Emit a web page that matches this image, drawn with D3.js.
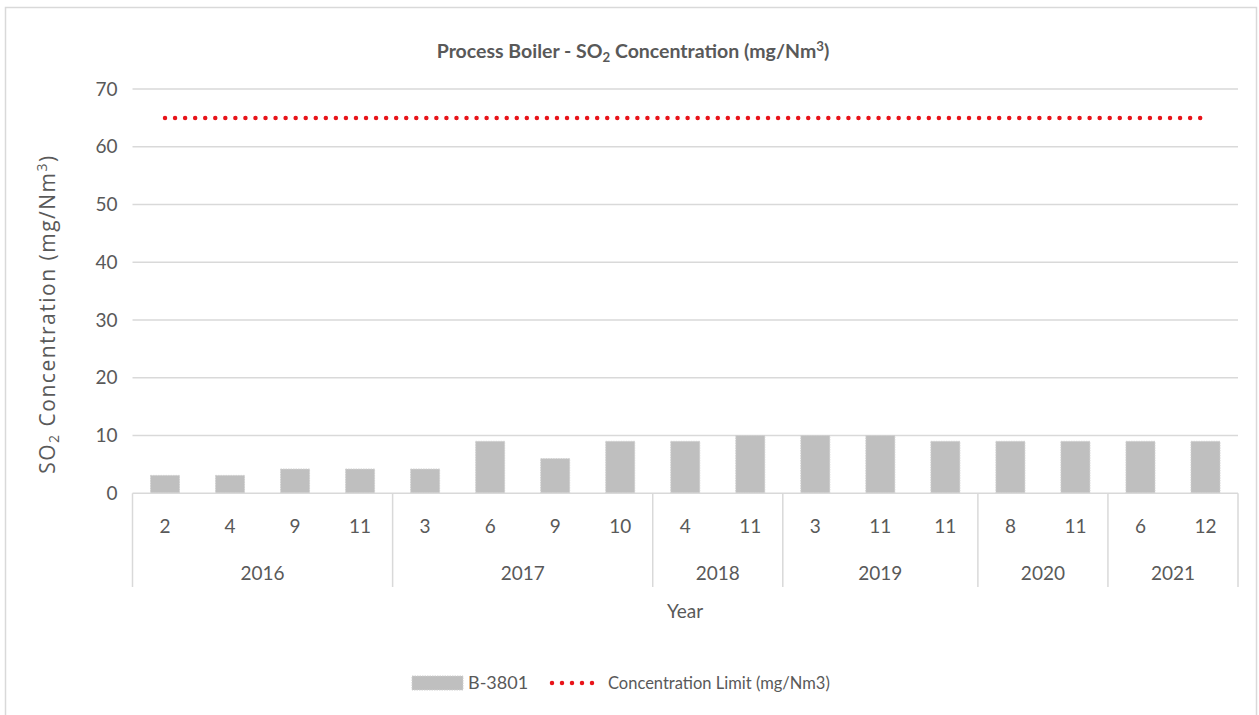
<!DOCTYPE html>
<html>
<head>
<meta charset="utf-8">
<script src="https://cdn.jsdelivr.net/npm/d3@7"></script>
<style>
  body { margin: 0; background: #fff; }
  svg { display: block; }
</style>
</head>
<body>
<svg id="chart" width="1259" height="715"></svg>
<script>
const months = ["2","4","9","11","3","6","9","10","4","11","3","11","11","8","11","6","12"];
const yearOfCat = ["2016","2016","2016","2016","2017","2017","2017","2017","2018","2018","2019","2019","2019","2020","2020","2021","2021"];
const years = ["2016","2017","2018","2019","2020","2021"];
const values = [3.1, 3.1, 4.2, 4.2, 4.2, 9, 6, 9, 9, 10, 10, 10, 9, 9, 9, 9, 9];
const limitValues = [65,65,65,65,65,65,65,65,65,65,65,65,65,65,65,65,65];
const yTicks = [0, 10, 20, 30, 40, 50, 60, 70];
const seriesNames = ["B-3801", "Concentration Limit (mg/Nm3)"];

const FONT = "Lato, 'Open Sans', sans-serif";
const TXT = "#595959";
const GRID = "#d9d9d9";

const svg = d3.select("#chart");
const pL = 132.5, pR = 1238, pT = 89, pB = 493.3;

svg.append("rect").attr("x", 5.5).attr("y", 7.5).attr("width", 1251).attr("height", 720)
  .attr("fill", "#fff").attr("stroke", "#d9d9d9").attr("stroke-width", 1.5);

const idx = months.map((d, i) => i);
const x = d3.scaleBand().domain(idx).range([pL, pR]).padding(0);
const y = d3.scaleLinear().domain([0, 70]).range([pB, pT]);

// gridlines
svg.append("g").selectAll("line").data(yTicks.filter(d => d > 0)).join("line")
  .attr("x1", pL).attr("x2", pR)
  .attr("y1", d => y(d)).attr("y2", d => y(d))
  .attr("stroke", GRID).attr("stroke-width", 1.5);

// y axis labels
const yAxis = d3.axisLeft(y).tickValues(yTicks).tickSize(0).tickPadding(15);
const ya = svg.append("g").attr("transform", `translate(${pL},0)`).call(yAxis);
ya.select(".domain").remove();
ya.selectAll("text").attr("font-family", FONT).attr("font-size", 19).attr("fill", TXT);

// bars
const bw = 29;
svg.append("g").selectAll("rect").data(values).join("rect")
  .attr("x", (d, i) => x(i) + x.bandwidth() / 2 - bw / 2)
  .attr("width", bw)
  .attr("y", d => y(d))
  .attr("height", d => pB - y(d))
  .attr("fill", "#bfbfbf")
  .attr("stroke", "#cfcfcf").attr("stroke-width", 1).attr("stroke-dasharray", "1.5,1");

// axis line
svg.append("line").attr("x1", pL).attr("x2", pR).attr("y1", pB).attr("y2", pB)
  .attr("stroke", GRID).attr("stroke-width", 1.5);

// category labels
svg.append("g").selectAll("text").data(months).join("text")
  .attr("x", (d, i) => x(i) + x.bandwidth() / 2)
  .attr("y", 533)
  .attr("text-anchor", "middle")
  .attr("font-family", FONT).attr("font-size", 19).attr("fill", TXT)
  .text(d => d);

// year groups
const groups = years.map(yr => {
  const ids = idx.filter(i => yearOfCat[i] === yr);
  return { yr, x0: x(ids[0]), x1: x(ids[ids.length - 1]) + x.bandwidth() };
});
const seps = [groups[0].x0].concat(groups.map(g => g.x1));
svg.append("g").selectAll("line").data(seps).join("line")
  .attr("x1", d => d).attr("x2", d => d)
  .attr("y1", pB).attr("y2", 587)
  .attr("stroke", GRID).attr("stroke-width", 1.5);
svg.append("g").selectAll("text").data(groups).join("text")
  .attr("x", d => (d.x0 + d.x1) / 2)
  .attr("y", 580)
  .attr("text-anchor", "middle")
  .attr("font-family", FONT).attr("font-size", 19).attr("fill", TXT)
  .text(d => d.yr);

// limit line
const line = d3.line().x((d, i) => x(i) + x.bandwidth() / 2).y(d => y(d));
svg.append("path").datum(limitValues)
  .attr("d", line)
  .attr("fill", "none").attr("stroke", "#e8141a").attr("stroke-width", 4.5)
  .attr("stroke-linecap", "round").attr("stroke-dasharray", "0,10.05");

// helper: fit a text element to a target width by adjusting font size
function fitWidth(sel, target) {
  const w = sel.node().getComputedTextLength();
  if (w > 0) {
    const fs = parseFloat(sel.attr("font-size"));
    const nf = fs * target / w;
    sel.attr("font-size", nf);
    sel.selectAll("tspan.sub").attr("font-size", nf * 0.68);
  }
}

// title
const title = svg.append("text").attr("x", 633).attr("y", 58).attr("text-anchor", "middle")
  .attr("font-family", FONT).attr("font-size", 19).attr("font-weight", "bold").attr("fill", TXT);
title.append("tspan").text("Process Boiler - SO");
title.append("tspan").attr("class", "sub").attr("font-size", 13).attr("dy", 4).text("2");
title.append("tspan").attr("dy", -4).text(" Concentration (mg/Nm");
title.append("tspan").attr("class", "sub").attr("font-size", 13).attr("dy", -7).text("3");
title.append("tspan").attr("dy", 7).text(")");
fitWidth(title, 393);

// y title
const yt = svg.append("text").attr("transform", "translate(55,314) rotate(-90)")
  .attr("text-anchor", "middle")
  .attr("font-family", "'Open Sans', sans-serif").attr("font-size", 21)
  .attr("letter-spacing", 1.5).attr("fill", TXT);
yt.append("tspan").text("SO");
yt.append("tspan").attr("font-size", 14).attr("dy", 4).text("2");
yt.append("tspan").attr("dy", -4).text(" Concentration (mg/Nm");
yt.append("tspan").attr("font-size", 14).attr("dy", -8).text("3");
yt.append("tspan").attr("dy", 8).text(")");

// x title
svg.append("text").attr("x", 685).attr("y", 618).attr("text-anchor", "middle")
  .attr("font-family", FONT).attr("font-size", 19).attr("fill", TXT).text("Year");

// legend
const lg = svg.append("g");
lg.append("rect").attr("x", 412).attr("y", 676).attr("width", 51).attr("height", 14)
  .attr("fill", "#bfbfbf").attr("stroke", "#cfcfcf").attr("stroke-dasharray", "1.5,1");
lg.append("text").attr("x", 468).attr("y", 689).attr("font-family", FONT).attr("font-size", 18)
  .attr("fill", TXT).text(seriesNames[0]);
lg.append("line").attr("x1", 552).attr("x2", 602).attr("y1", 683).attr("y2", 683)
  .attr("stroke", "#e8141a").attr("stroke-width", 4.5).attr("stroke-linecap", "round")
  .attr("stroke-dasharray", "0,10");
const lt = lg.append("text").attr("x", 608).attr("y", 689).attr("font-family", FONT).attr("font-size", 18)
  .attr("fill", TXT).text(seriesNames[1]);
fitWidth(lt, 222);
</script>
</body>
</html>
